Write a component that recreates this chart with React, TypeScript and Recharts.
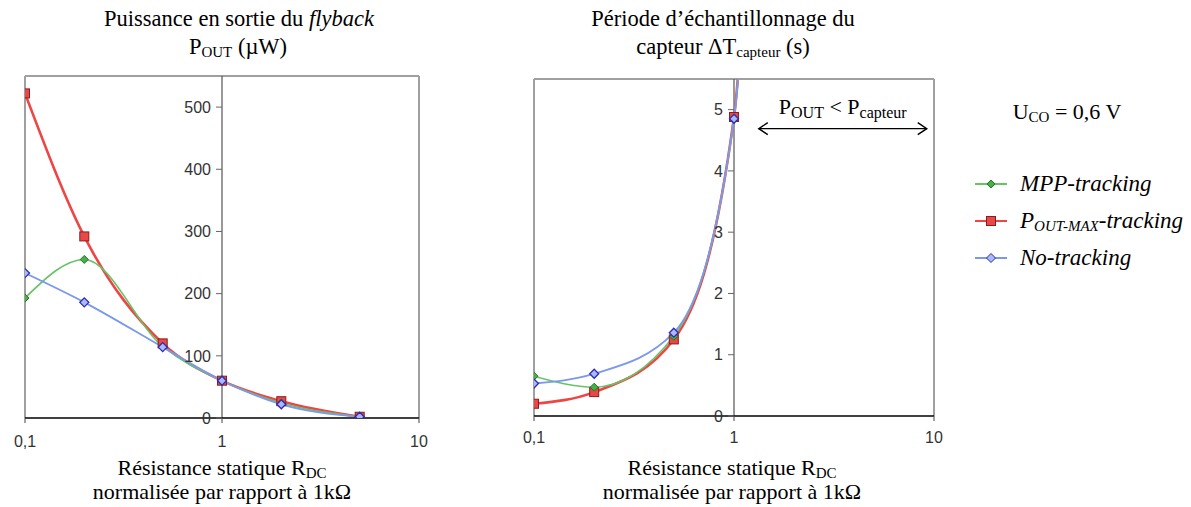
import { LineChart, Line, XAxis, YAxis, ReferenceLine, ReferenceDot } from "recharts";

// R_DC normalised to 1 kOhm
const rdc = [0.1, 0.2, 0.5, 1, 2, 5];
const poutMpp = [193, 255, 115, 60, 24, 2];
const poutMax = [522, 292, 120, 60, 27, 2];
const poutNo = [233, 186, 114, 60, 22, 2];

// sampling period; the x=2 values sit far above the visible range
const rdcPeriod = [0.1, 0.2, 0.5, 1, 2];
const periodMpp = [0.65, 0.47, 1.3, 4.85, 40];
const periodMax = [0.2, 0.39, 1.25, 4.88, 40];
const periodNo = [0.53, 0.69, 1.36, 4.85, 40];

const xTicks = [0.1, 1, 10];
const poutTicks = [0, 100, 200, 300, 400, 500];
const periodTicks = [0, 1, 2, 3, 4, 5];

const arrowFrom = { x: 1.33, y: 4.69 };
const arrowTo = { x: 9.2, y: 4.69 };

const poutData = rdc.map((r, i) => ({ r, mpp: poutMpp[i], max: poutMax[i], no: poutNo[i] }));
const periodData = rdcPeriod.map((r, i) => ({ r, mpp: periodMpp[i], max: periodMax[i], no: periodNo[i] }));

const SERIF = "Liberation Serif";
const SANS = "Liberation Sans";

const RED = "#ee4545";
const GREEN = "#66c466";
const BLUE = "#7b98ec";

const fmt = (v: number) => String(v).replace(".", ",");

const SquareDot = (p: any) => (
  <rect key={p.index} x={p.cx - 4.5} y={p.cy - 4.5} width={9} height={9} fill="#e84848" stroke="#8a1c1c" strokeWidth={1} />
);
const GreenDot = (p: any) => (
  <path key={p.index} d={`M${p.cx},${p.cy - 4}L${p.cx + 4},${p.cy}L${p.cx},${p.cy + 4}L${p.cx - 4},${p.cy}Z`} fill="#49b049" stroke="#1c7a1c" strokeWidth={1} />
);
const BlueDot = (p: any) => (
  <path key={p.index} d={`M${p.cx},${p.cy - 4.5}L${p.cx + 4.5},${p.cy}L${p.cx},${p.cy + 4.5}L${p.cx - 4.5},${p.cy}Z`} fill="#a9b8ff" stroke="#2b2bb0" strokeWidth={1.3} />
);

const yTick = (label: string) => (p: any) => (
  <g>
    <line x1={p.cx - 6} y1={p.cy} x2={p.cx} y2={p.cy} stroke="#666" />
    <text x={p.cx - 11} y={p.cy} dy="0.36em" textAnchor="end" fontFamily={SANS} fontSize={16} fill="#333">
      {label}
    </text>
  </g>
);

const ArrowShape = (p: any) => {
  const { x1, y1, x2, y2 } = p;
  return (
    <g>
      <line x1={x1} y1={y1} x2={x2} y2={y2} stroke="#000" strokeWidth={1.4} />
      <path d={`M${x1 + 9},${y1 - 6}L${x1},${y1}L${x1 + 9},${y1 + 6}`} fill="none" stroke="#000" strokeWidth={1.4} />
      <path d={`M${x2 - 9},${y2 - 6}L${x2},${y2}L${x2 - 9},${y2 + 6}`} fill="none" stroke="#000" strokeWidth={1.4} />
      <text x={(x1 + x2) / 2} y={y1 - 15} textAnchor="middle" fontFamily={SERIF} fontSize={22} fill="#000">
        P<tspan fontSize={16} dy={4}>OUT</tspan>
        <tspan dy={-4}> &lt; P</tspan>
        <tspan fontSize={16} dy={4}>capteur</tspan>
      </text>
    </g>
  );
};

function Panel(props: {
  data: any[];
  width: number;
  margin: { top: number; right: number; bottom: number; left: number };
  yMax: number;
  ticks: number[];
  tickMargin: number;
  annotate?: boolean;
}) {
  const { data, width, margin, yMax, ticks, tickMargin, annotate } = props;
  return (
    <LineChart width={width} height={507} data={data} margin={margin}>
      <XAxis
        dataKey="r"
        type="number"
        scale="log"
        domain={[0.1, 10]}
        ticks={xTicks}
        tickFormatter={fmt}
        allowDataOverflow
        height={40}
        tickSize={5}
        tickMargin={tickMargin}
        axisLine={{ stroke: "#000", strokeWidth: 1.5 }}
        tickLine={{ stroke: "#444" }}
        tick={{ fontFamily: SANS, fontSize: 16, fill: "#333" }}
      />
      <YAxis hide type="number" domain={[0, yMax]} allowDataOverflow />
      <ReferenceLine y={yMax} stroke="#a0a0a0" strokeWidth={2} />
      <ReferenceLine x={0.1} stroke="#a0a0a0" strokeWidth={2} />
      <ReferenceLine x={10} stroke="#a0a0a0" strokeWidth={2} />
      <ReferenceLine x={1} stroke="#555" strokeWidth={1.2} />
      {ticks.map((t) => (
        <ReferenceDot key={t} x={1} y={t} shape={yTick(fmt(t))} />
      ))}
      {annotate && <ReferenceLine segment={[arrowFrom, arrowTo]} shape={ArrowShape} />}
      <Line type="monotone" dataKey="max" stroke={RED} strokeWidth={2.6} dot={SquareDot} activeDot={false} isAnimationActive={false} />
      <Line type="monotone" dataKey="mpp" stroke={GREEN} strokeWidth={1.6} dot={GreenDot} activeDot={false} isAnimationActive={false} />
      <Line type="monotone" dataKey="no" stroke={BLUE} strokeWidth={1.8} dot={BlueDot} activeDot={false} isAnimationActive={false} />
    </LineChart>
  );
}

const abs = (left: number, top: number, extra: any = {}) => ({
  position: "absolute" as const,
  left,
  top,
  fontFamily: SERIF,
  fontSize: 22,
  color: "#000",
  whiteSpace: "nowrap" as const,
  lineHeight: "24px",
  ...extra,
});

const centered = (cx: number, top: number, content: any, size = 22) => (
  <div style={abs(cx - 200, top, { width: 400, textAlign: "center", fontSize: size })}>{content}</div>
);

const sub = (s: string) => <sub style={{ fontSize: 15, verticalAlign: "-3px", lineHeight: 0 }}>{s}</sub>;

function LegendRow({ label, dot }: { label: any; dot: any }) {
  return (
    <div style={{ display: "flex", alignItems: "center", height: 37 }}>
      <svg width={47} height={16}>
        <line x1={2} y1={8} x2={34} y2={8} stroke={dot.color} strokeWidth={2} />
        {dot.shape}
      </svg>
      <span style={{ fontStyle: "italic", fontFamily: SERIF, fontSize: 23 }}>{label}</span>
    </div>
  );
}

export default function App() {
  return (
    <div style={{ position: "absolute", left: 0, top: 0, width: 1191, height: 507, background: "#fff", overflow: "hidden" }}>
      {centered(239, 7, <>Puissance en sortie du <i>flyback</i></>, 22.5)}
      {centered(238, 35, <>P{sub("OUT")} (µW)</>, 22.5)}
      {centered(723, 7, <>Période d’échantillonnage du</>, 22.5)}
      {centered(723, 35, <>capteur ΔT{sub("capteur")} (s)</>, 22.5)}

      <div style={{ position: "absolute", left: 0, top: 0 }}>
        <Panel
          data={poutData}
          width={440}
          margin={{ top: 76, right: 21, bottom: 49, left: 25 }}
          yMax={550}
          ticks={poutTicks}
          tickMargin={13}
        />
      </div>
      <div style={{ position: "absolute", left: 500, top: 0 }}>
        <Panel
          data={periodData}
          width={460}
          margin={{ top: 79, right: 26, bottom: 51, left: 34 }}
          yMax={5.5}
          ticks={periodTicks}
          tickMargin={11}
          annotate
        />
      </div>

      {centered(222, 456, <>Résistance statique R{sub("DC")}</>)}
      {centered(222, 480, <>normalisée par rapport à 1kΩ</>)}
      {centered(732, 456, <>Résistance statique R{sub("DC")}</>)}
      {centered(732, 480, <>normalisée par rapport à 1kΩ</>)}

      {centered(1067, 100, <>U{sub("CO")} = 0,6 V</>)}

      <div style={{ position: "absolute", left: 973, top: 165 }}>
        <LegendRow
          label="MPP-tracking"
          dot={{ color: GREEN, shape: <path d="M18,4L22,8L18,12L14,8Z" fill="#49b049" stroke="#1c7a1c" /> }}
        />
        <LegendRow
          label={<>P{sub("OUT-MAX")}-tracking</>}
          dot={{ color: RED, shape: <rect x={13.5} y={3.5} width={9} height={9} fill="#e84848" stroke="#8a1c1c" /> }}
        />
        <LegendRow
          label="No-tracking"
          dot={{ color: BLUE, shape: <path d="M18,3.5L22.5,8L18,12.5L13.5,8Z" fill="#a9b8ff" stroke="#2b2bb0" /> }}
        />
      </div>
    </div>
  );
}
